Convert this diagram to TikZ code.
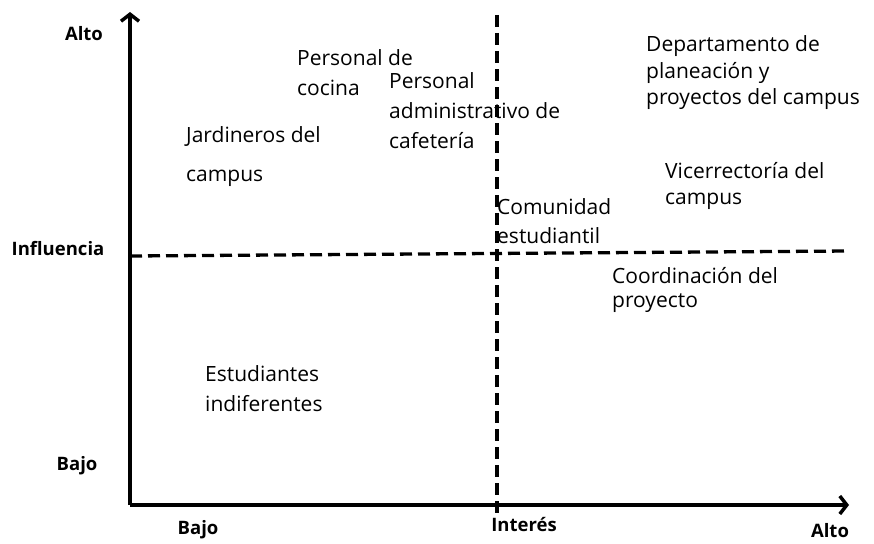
\documentclass[tikz,border=0pt]{standalone}
\usepackage{fontspec}
\setmainfont{Open Sans}
\usetikzlibrary{arrows.meta,positioning}
\tikzset{
    axis/.style={line width=4pt, -{Straight Barb[length=7pt,width=18pt,line width=3.5pt]}},
    split/.style={line width=3.3pt, dash pattern=on 12pt off 6pt},
    level/.style={font=\bfseries\fontsize{18.5}{22}\selectfont, inner sep=0pt},
    actor/.style={align=left, anchor=west, inner sep=0pt, font=\fontsize{21}{30}\selectfont},
}

\begin{document}
\begin{tikzpicture}[x=1pt, y=-1pt]
    \useasboundingbox (0,0) rectangle (874,543);

    % axes
    \coordinate (O) at (130,505);
    \coordinate (Ytop) at (130,12);
    \coordinate (Xend) at (849,505);
    \draw[axis] (O) -- (Ytop);
    \draw[axis] (O) -- (Xend);

    % quadrant split
    \coordinate (Vtop) at (497,15);
    \coordinate (Vbot) at (497,516);
    \coordinate (Hleft) at (130,256);
    \coordinate (Hright) at (848,251);
    \draw[split] (Vtop) -- (Vbot);
    \draw[split] (Hleft) -- (Hright);

    % axis labels
    \node[level] (yhigh) at (84,34) {Alto};
    \node[level] (yname) at (58,249) {Influencia};
    \node[level] (ylow) at (77,466) {Bajo};
    \node[level] (xlow) at (198,530) {Bajo};
    \node[level] (xname) at (524,524) {Interés};
    \node[level] (xhigh) at (830,531) {Alto};

    % stakeholders
    \node[actor] (cocina) at (297,73) {Personal de\\cocina};
    \node[actor] (cafeteria) at (389,111) {Personal\\administrativo de\\cafetería};
    \node[actor, font=\fontsize{21}{39}\selectfont] (jardin) at (186,157) {Jardineros del\\campus};
    \node[actor, font=\fontsize{21}{26.5}\selectfont] (planeacion) at (646,73) {Departamento de\\planeación y\\proyectos del campus};
    \node[actor, font=\fontsize{21}{26}\selectfont] (vicerrectoria) at (665,186) {Vicerrectoría del\\campus};
    \node[actor, font=\fontsize{21}{29}\selectfont] (comunidad) at (497,221) {Comunidad\\estudiantil};
    \node[actor, font=\fontsize{21}{24}\selectfont] (coordinacion) at (612,290) {Coordinación del\\proyecto};
    \node[actor] (indiferentes) at (205,389) {Estudiantes\\indiferentes};
\end{tikzpicture}
\end{document}
